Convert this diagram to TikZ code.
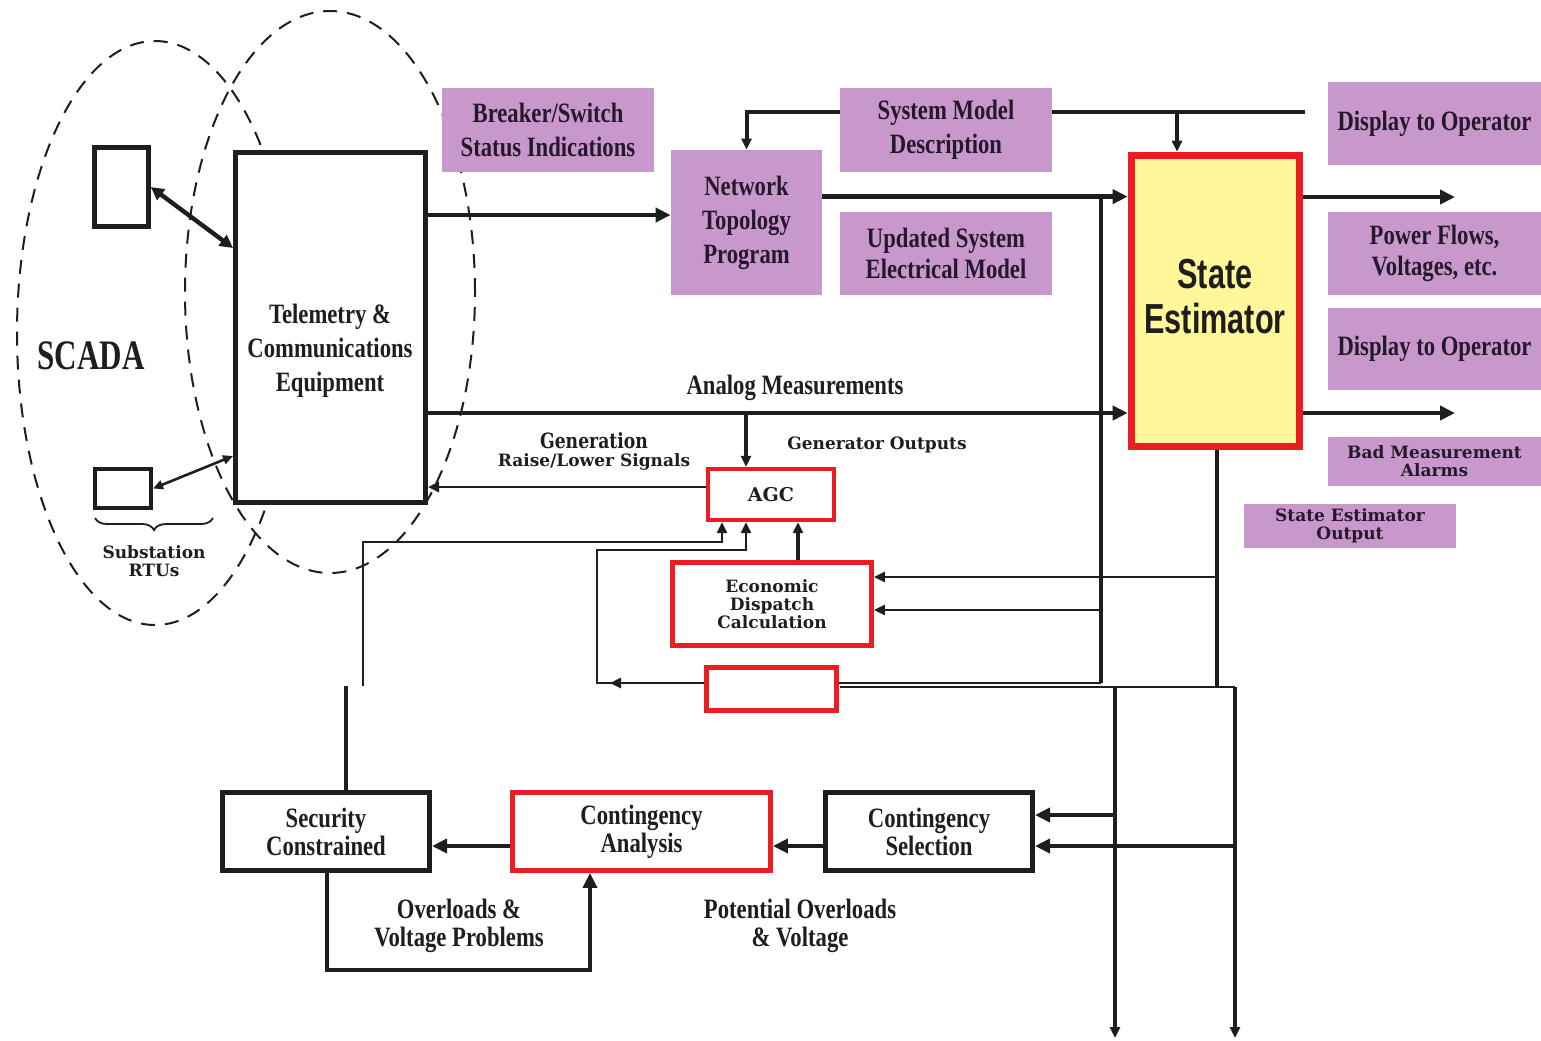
\documentclass[tikz,border=0pt]{standalone}
\usepackage{fontspec}
\usetikzlibrary{arrows.meta,calc,decorations.pathreplacing}
\newfontfamily\cndfont[FakeStretch=0.81]{Liberation Serif}
\newfontfamily\scadafont[FakeStretch=0.74]{Liberation Serif}
\newfontfamily\sefont[FakeStretch=0.73]{Liberation Sans}
\newfontfamily\widefont{DejaVu Serif}
\newfontfamily\genfont[FakeStretch=0.82]{DejaVu Serif}
\definecolor{orchid}{RGB}{200,152,204}
\definecolor{orchidtext}{RGB}{38,24,44}
\definecolor{sey}{RGB}{255,247,153}
\definecolor{sered}{RGB}{236,28,36}
\definecolor{ink}{RGB}{30,30,30}

\begin{document}
\begin{tikzpicture}[x=0.5pt,y=-0.5pt,
  sz/.style 2 args={minimum width=#1*0.5pt, minimum height=#2*0.5pt},
  cnd/.style={font=\cndfont\bfseries\fontsize{14}{17}\selectfont},
  cndtight/.style={font=\cndfont\bfseries\fontsize{14}{14}\selectfont},
  cndmid/.style={font=\cndfont\bfseries\fontsize{14}{15.5}\selectfont},
  wide/.style={font=\widefont\bfseries\fontsize{8.5}{9}\selectfont},
  pbox/.style={fill=orchid, text=orchidtext, align=center, inner sep=0pt, cnd},
  pwide/.style={fill=orchid, text=orchidtext, align=center, inner sep=0pt, wide},
  blk/.style={draw=ink, line width=2.5pt, fill=white, align=center, inner sep=0pt, text=ink, cndtight},
  rbox/.style={draw=sered, line width=2.4pt, fill=white, align=center, inner sep=0pt, text=ink},
  txt/.style={align=center, inner sep=0pt, text=ink},
  wline/.style={draw=ink, line width=2.4pt},
  mline/.style={draw=ink, line width=1.7pt},
  tline/.style={draw=ink, line width=1.35pt},
  bigtip/.style={-{Triangle[length=7.5pt,width=7pt]}},
  smalltip/.style={-{Triangle[length=5.5pt,width=5pt]}},
  dashring/.style={draw=ink, line width=1pt, dash pattern=on 7pt off 5pt},
]
\useasboundingbox (0,0) rectangle (1541,1040);
\fill[white] (0,0) rectangle (1541,1040);

% ---- SCADA zone ----
\draw[dashring] (155,333) ellipse [x radius=69pt, y radius=146pt];
\draw[dashring] (330,292) ellipse [x radius=72.5pt, y radius=140.5pt];
\node[txt, font=\scadafont\bfseries\fontsize{21}{24}\selectfont] (scada) at (91,356) {SCADA};

\node[draw=ink, line width=2.3pt, fill=white, sz={54}{79}] (rtuA) at (121.5,187) {};
\node[draw=ink, line width=2pt, fill=white, sz={56}{39}] (rtuB) at (123,488.5) {};
\draw[decorate, decoration={brace, mirror, amplitude=6pt}, ink, line width=0.9pt]
  (95,518) -- (213,518);
\node[txt, wide] (subst) at (154,561) {Substation\\RTUs};

\node[draw=ink, line width=2.5pt, fill=white, sz={190}{350}] (tce) at (330.5,327.5) {};
\node[txt, cnd] (tcetext) at (330,351) {Telemetry \&\\Communications\\Equipment};

% ---- model boxes ----
\node[pbox, sz={212}{84}] (brk) at (548,130) {Breaker/Switch\\Status Indications};
\node[pbox, sz={151}{145}] (ntp) at (746.5,222.5) {Network\\Topology\\Program};
\node[pbox, sz={212}{84}] (smd) at (946,130) {System Model\\Description};
\node[pbox, cndmid, sz={212}{83}] (usm) at (946,253.5) {Updated System\\Electrical Model};
\node[pbox, sz={213}{83}] (dto1) at (1434.5,123.5) {Display to Operator};
\node[pbox, cndmid, sz={213}{83}] (pfv) at (1434.5,253.5) {Power Flows,\\Voltages, etc.};
\node[pbox, sz={213}{82}] (dto2) at (1434.5,349) {Display to Operator};
\node[pwide, sz={213}{49}] (bma) at (1434.5,461.5) {Bad Measurement\\Alarms};
\node[pwide, sz={212}{44}] (seo) at (1350,526) {State Estimator\\Output};

\node[draw=sered, line width=3.8pt, fill=sey, sz={168}{291}] (se) at (1215.5,301) {};
\node[txt, font=\sefont\bfseries\fontsize{21}{22.5}\selectfont] (setext) at (1215,297) {State\\Estimator};

% ---- control boxes ----
\node[rbox, line width=2.2pt, sz={126}{51}, font=\widefont\bfseries\fontsize{9.5}{10}\selectfont] (agc) at (771,494.5) {AGC};
\node[rbox, sz={199}{83}, wide] (edc) at (772,604) {Economic\\Dispatch\\Calculation};
\node[rbox, sz={130}{43}] (hid) at (771.5,689) {};

\node[blk, sz={207}{78}] (sc) at (326,831.5) {Security\\Constrained};
\node[rbox, cndtight, sz={258}{78}] (ca) at (641.5,831.5) {Contingency\\Analysis};
\node[blk, sz={207}{78}] (cs) at (929,831.5) {Contingency\\Selection};

% ---- RTU links ----
\coordinate (rtuAin) at ($(tce.west)+(0,-79.5)$);
\coordinate (rtuBin) at ($(tce.west)+(0,128.5)$);
\draw[ink, line width=2.2pt, {Triangle[length=6.5pt,width=6.5pt]}-{Triangle[length=6.5pt,width=6.5pt]}]
  (rtuA.east) -- (rtuAin);
\draw[ink, line width=1.3pt, {Triangle[length=5pt,width=4.5pt]}-{Triangle[length=5pt,width=4.5pt]}]
  (rtuB.east) -- (rtuBin);

% ---- breaker status to topology ----
\coordinate (toptap) at ($(tce.north east)+(0,65)$);
\draw[wline, bigtip] (toptap) -- (toptap -| ntp.west);

% ---- system model description feed ----
\coordinate (smtap) at (1305,112);
\coordinate (sedrop) at (1177,112);
\draw[wline, line width=2pt] (smtap) -- (smtap -| smd.east);
\draw[wline, line width=2pt, smalltip] (smtap -| smd.west) -| (ntp.north);
\draw[mline, smalltip] (sedrop) -- (sedrop |- se.north);

% ---- topology to state estimator ----
\coordinate (ntpout) at ($(ntp.north east)+(0,47)$);
\draw[wline, bigtip] (ntpout) -- (ntpout -| se.west);

% ---- analog measurements ----
\coordinate (anaout) at ($(tce.north east)+(0,263)$);
\draw[wline, bigtip] (anaout) -- (anaout -| se.west);
\node[txt, cnd] (analog) at (795,388) {Analog Measurements};
\coordinate (agctap) at (746,413);
\draw[mline, smalltip] (agctap) -- (agctap |- agc.north);

% ---- state estimator outputs ----
\coordinate (out1) at (1455,197);
\coordinate (out2) at (1455,413);
\draw[wline, bigtip] (out1 -| se.east) -- (out1);
\draw[wline, bigtip] (out2 -| se.east) -- (out2);

% ---- AGC raise/lower signals ----
\coordinate (agcout) at ($(agc.west)+(0,-7.5)$);
\draw[tline, smalltip] (agcout) -- (agcout -| tce.east);
\node[txt, font=\genfont\bfseries\fontsize{10.5}{12}\selectfont] (gen) at (594,441) {Generation};
\node[txt, wide] (rls) at (594,462) {Raise/Lower Signals};
\node[txt, wide] (genout) at (877,445) {Generator Outputs};

% ---- buses below the state estimator ----
\coordinate (vtop) at (1101,197);
\coordinate (vbus) at (1101,683);
\coordinate (sebus) at (1217,686);
\draw[mline] (vtop) -- (vbus);
\draw[mline] (se.south -| sebus) -- (sebus);
\coordinate (edin1) at (1217,577);
\coordinate (edin2) at (1101,610);
\draw[tline, smalltip] (edin1) -- (edin1 -| edc.east);
\draw[tline, smalltip] (edin2) -- (edin2 -| edc.east);
\draw[tline] (vbus) -- (vbus -| hid.east);

% ---- feedback loops into AGC ----
\coordinate (agcin1) at ($(agc.south)+(-49,0)$);
\coordinate (agcin2) at ($(agc.south)+(-25,0)$);
\coordinate (agcin3) at ($(agc.south)+(27,0)$);
\coordinate (loopc) at (597,683);
\coordinate (loopt) at (597,550);
\coordinate (loopmark) at (610,683);
\draw[tline, smalltip] (hid.west |- loopc) -- (loopc) -- (loopt) -| (agcin2);
\draw[tline, smalltip] (hid.west |- loopc) -- (loopmark);
\coordinate (scup) at (363,686);
\coordinate (sccorner) at (363,542);
\draw[tline, smalltip] (scup) -- (sccorner) -| (agcin1);
\draw[mline, smalltip] (agcin3 |- edc.north) -- (agcin3);

% ---- contingency section ----
\coordinate (lbusL) at (840,687);
\coordinate (lbusA) at (1115,687);
\coordinate (lbusB) at (1235,687);
\coordinate (downA) at (1115,1038);
\coordinate (downB) at (1235,1038);
\draw[tline] (lbusL) -- (lbusB);
\draw[mline, smalltip] (lbusA) -- (downA);
\draw[mline, smalltip] (lbusB) -- (downB);
\coordinate (csin1) at (1115,815);
\coordinate (csin2) at (1235,846);
\draw[wline, bigtip] (csin1) -- (csin1 -| cs.east);
\draw[wline, bigtip] (csin2) -- (csin2 -| cs.east);
\coordinate (csout) at ($(cs.west)+(0,14.5)$);
\draw[wline, bigtip] (csout) -- (csout -| ca.east);
\coordinate (caout) at ($(ca.west)+(0,14.5)$);
\draw[wline, bigtip] (caout) -- (caout -| sc.east);
\coordinate (scstub) at (346,686);
\draw[mline] (sc.north -| scstub) -- (scstub);
\coordinate (fbL) at (327,970);
\coordinate (fbR) at (590,970);
\draw[mline, bigtip] (sc.south -| fbL) -- (fbL) -- (fbR) -- (fbR |- ca.south);
\node[txt, cndtight] (ovl) at (459,926) {Overloads \&\\Voltage Problems};
\node[txt, cndtight] (pov) at (800,926) {Potential Overloads\\\& Voltage};
\end{tikzpicture}
\end{document}
